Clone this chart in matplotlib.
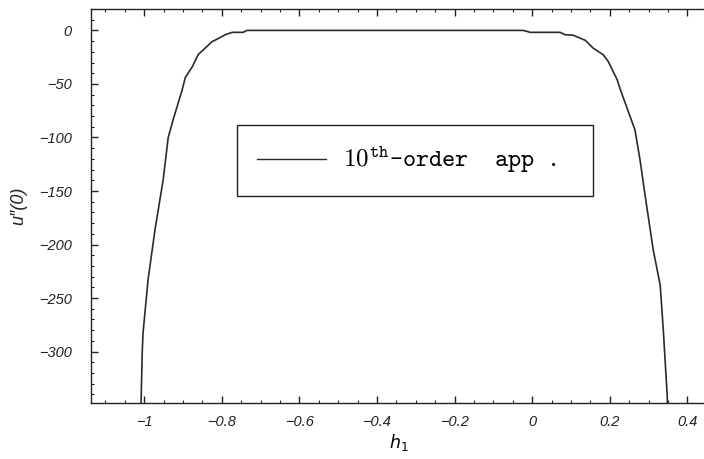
import matplotlib
matplotlib.use("Agg")
import matplotlib.pyplot as plt
from matplotlib.ticker import MultipleLocator, FuncFormatter

# u''(0) against h1 for the 10th-order approximation
h1 = [-1.012, -1.008, -1.005, -1.003, -0.990, -0.972, -0.951, -0.938, -0.925,
      -0.902, -0.894, -0.876, -0.861, -0.825, -0.810, -0.791, -0.773, -0.745,
      -0.735, -0.023, -0.005, 0.072, 0.085, 0.106, 0.137, 0.157, 0.183, 0.196,
      0.219, 0.227, 0.265, 0.278, 0.291, 0.312, 0.330, 0.338, 0.348, 0.351]
upp0 = [-375, -348, -301, -283, -233, -186, -139.5, -100, -83,
        -55.5, -44, -34, -22.7, -10.5, -7.8, -4, -1.8, -1.8,
        0, 0, -1.8, -1.8, -4, -4.5, -9.3, -16.5, -22.7, -29,
        -46, -55, -93, -121, -154, -205, -238, -280, -341, -375]

legend_label = r"$\mathtt{10^{th}}$-order  app ."

plt.rcParams["mathtext.fontset"] = "cm"
tick_font = {"family": "Liberation Sans", "style": "italic", "size": 10.5}

fig = plt.figure(figsize=(7.04, 4.59), dpi=100)
ax = fig.add_axes([91 / 704, 1 - 403 / 459, 615 / 704, 394 / 459])

ax.plot(h1, upp0, color="#2a2a2a", lw=1.2, label=legend_label)

ax.set_xlim(-1.137, 0.448)
ax.set_ylim(-348, 20)

ax.xaxis.set_major_locator(MultipleLocator(0.2))
ax.xaxis.set_minor_locator(MultipleLocator(0.05))
ax.yaxis.set_major_locator(MultipleLocator(50))
ax.yaxis.set_minor_locator(MultipleLocator(10))
fmt = FuncFormatter(lambda v, pos: ("%g" % round(v, 6)).replace("-", "\u2212"))
ax.xaxis.set_major_formatter(fmt)
ax.yaxis.set_major_formatter(fmt)

ax.tick_params(which="both", direction="in", top=True, right=False,
               color="#222222")
ax.tick_params(which="major", length=5, width=1)
ax.tick_params(which="minor", length=2.5, width=0.8)
ax.tick_params(axis="y", pad=14)
ax.tick_params(axis="x", pad=9)
for lab in ax.get_xticklabels() + ax.get_yticklabels():
    lab.set_fontfamily(tick_font["family"])
    lab.set_fontstyle(tick_font["style"])
    lab.set_fontsize(tick_font["size"])
    lab.set_color("#222222")

for sp in ax.spines.values():
    sp.set_linewidth(1.0)
    sp.set_color("#222222")

ax.set_xlabel(r"$h_1$", fontsize=12.5, labelpad=2,
              math_fontfamily="dejavusans")
ax.set_ylabel("u\u2033(0)", fontsize=13, labelpad=8,
              family="Liberation Sans", style="italic", color="#222222")

leg = ax.legend(loc="lower left", bbox_to_anchor=(0.237, 0.525, 0.579, 0.183),
                mode="expand", prop={"family": "cmtt10", "size": 18},
                handlelength=2.75, handletextpad=0.7, borderpad=0.8,
                borderaxespad=0, fancybox=False, framealpha=1)
leg.get_frame().set_edgecolor("#222222")
leg.get_frame().set_linewidth(1.0)
for line in leg.get_lines():
    line.set_linewidth(1.0)

fig.savefig("out.png", dpi=100)
